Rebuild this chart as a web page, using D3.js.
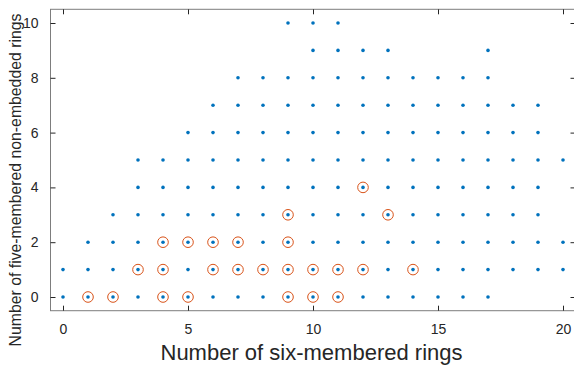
<!DOCTYPE html>
<html>
<head>
<meta charset="utf-8">
<script src="https://cdn.jsdelivr.net/npm/d3@7"></script>
<style>
  body { margin: 0; background: #fff; }
  svg { display: block; font-family: "Liberation Sans", Arial, Helvetica, sans-serif; }
</style>
</head>
<body>
<div id="chart"></div>
<script>
// y value of each row and the x values found on that row
const rowY = [0, 1, 2, 3, 4, 5, 6, 7, 8, 9, 10]
const rowX = [
  [0, 1, 2, 3, 4, 5, 6, 7, 8, 9, 10, 11, 12, 13, 14, 15, 16, 17],
  [0, 1, 2, 3, 4, 5, 6, 7, 8, 9, 10, 11, 12, 13, 14, 15, 16, 17, 18, 19, 20],
  [1, 2, 3, 4, 5, 6, 7, 8, 9, 10, 11, 12, 13, 14, 15, 16, 17, 18, 19, 20],
  [2, 3, 4, 5, 6, 7, 8, 9, 10, 11, 12, 13, 14, 15, 16, 17, 18, 19],
  [3, 4, 5, 6, 7, 8, 9, 10, 11, 12, 13, 14, 15, 16, 17, 18, 19],
  [3, 4, 5, 6, 7, 8, 9, 10, 11, 12, 13, 14, 15, 16, 17, 18, 19, 20],
  [5, 6, 7, 8, 9, 10, 11, 12, 13, 14, 15, 16, 17, 18, 19],
  [6, 7, 8, 9, 10, 11, 12, 13, 14, 15, 16, 17, 18, 19],
  [7, 8, 9, 10, 11, 12, 13, 14, 15, 16, 17],
  [10, 11, 12, 13, 17],
  [9, 10, 11]
]

// circled points, same layout
const hiY = [0, 1, 2, 3, 4]
const hiX = [
  [1, 2, 4, 5, 9, 10, 11],
  [3, 4, 6, 7, 8, 9, 10, 11, 12, 14],
  [4, 5, 6, 7, 9],
  [9, 13],
  [12]
]

const xTicks = [0, 5, 10, 15, 20]
const yTicks = [0, 2, 4, 6, 8, 10]
const xLabel = 'Number of six-membered rings'
const yLabel = 'Number of five-membered non-embedded rings'

const toPoints = (ys, xs) => {
  const out = []
  ys.forEach((y, i) => xs[i].forEach(x => out.push({ x, y })))
  return out
}
const points = toPoints(rowY, rowX)
const circled = toPoints(hiY, hiX)

const W = 574
const H = 365
const margin = { left: 50.5, right: 575.5, top: 9.3, bottom: 310.7 }
const axisColor = '#262626'

const x = d3.scaleLinear().domain([-0.5, 20.5]).range([margin.left, margin.right])
const y = d3.scaleLinear().domain([-0.5, 10.5]).range([margin.bottom, margin.top])

const svg = d3.select('#chart').append('svg')
  .attr('width', W)
  .attr('height', H)

// data first, box on top
svg.append('g')
  .selectAll('circle')
  .data(circled)
  .enter().append('circle')
  .attr('cx', d => x(d.x))
  .attr('cy', d => y(d.y))
  .attr('r', 5.3)
  .attr('fill', 'none')
  .attr('stroke', '#D95319')
  .attr('stroke-width', 1)

svg.append('g')
  .selectAll('circle')
  .data(points)
  .enter().append('circle')
  .attr('cx', d => x(d.x))
  .attr('cy', d => y(d.y))
  .attr('r', 1.8)
  .attr('fill', '#0072BD')

const styleAxis = (g) => {
  g.select('.domain').remove()
  g.selectAll('.tick line').attr('stroke', axisColor)
  g.selectAll('.tick text')
    .attr('fill', axisColor)
    .style('font-size', '14px')
    .style('font-family', '"Liberation Sans", Arial, Helvetica, sans-serif')
}

// bottom and left axes, ticks pointing inside
svg.append('g')
  .attr('transform', `translate(0,${margin.bottom})`)
  .call(d3.axisBottom(x).tickValues(xTicks).tickSizeInner(-5).tickSizeOuter(0).tickPadding(13))
  .call(styleAxis)

svg.append('g')
  .attr('transform', `translate(${margin.left},0)`)
  .call(d3.axisLeft(y).tickValues(yTicks).tickSizeInner(-5).tickSizeOuter(0).tickPadding(12))
  .call(styleAxis)

// top and right ticks without labels
svg.append('g')
  .attr('transform', `translate(0,${margin.top})`)
  .call(d3.axisTop(x).tickValues(xTicks).tickSizeInner(-5).tickSizeOuter(0).tickFormat(''))
  .call(styleAxis)

svg.append('g')
  .attr('transform', `translate(${margin.right},0)`)
  .call(d3.axisRight(y).tickValues(yTicks).tickSizeInner(-5).tickSizeOuter(0).tickFormat(''))
  .call(styleAxis)

svg.append('rect')
  .attr('x', margin.left)
  .attr('y', margin.top)
  .attr('width', margin.right - margin.left)
  .attr('height', margin.bottom - margin.top)
  .attr('fill', 'none')
  .attr('stroke', axisColor)
  .attr('stroke-opacity', 0.6)
  .attr('stroke-width', 1)

svg.append('text')
  .attr('x', (margin.left + margin.right) / 2 - 1.5)
  .attr('y', 359.5)
  .attr('text-anchor', 'middle')
  .attr('fill', axisColor)
  .style('font-size', '22px')
  .text(xLabel)

svg.append('text')
  .attr('transform', 'translate(21,180) rotate(-90)')
  .attr('text-anchor', 'middle')
  .attr('fill', axisColor)
  .style('font-size', '15.8px')
  .text(yLabel)
</script>
</body>
</html>
